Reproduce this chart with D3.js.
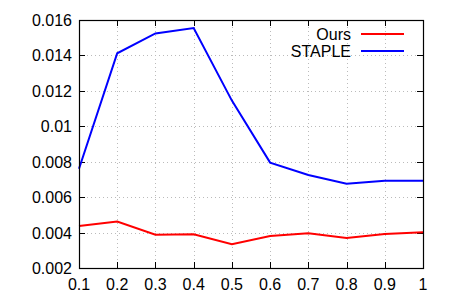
<!DOCTYPE html>
<html>
<head>
<meta charset="utf-8">
<script src="https://cdn.jsdelivr.net/npm/d3@7"></script>
<style>
  body { margin: 0; background: #fff; }
  text { font-family: "Liberation Sans", Arial, sans-serif; }
</style>
</head>
<body>
<svg id="chart"></svg>
<script>
var W = 450, H = 300;
var margin = {left: 79, right: 27, top: 20, bottom: 32};

// data
var xValues = [0.1, 0.2, 0.3, 0.4, 0.5, 0.6, 0.7, 0.8, 0.9, 1.0];
var oursValues = [0.00437, 0.00462, 0.00388, 0.0039, 0.00334, 0.0038, 0.00396, 0.0037, 0.00392, 0.00402];
var stapleValues = [0.0076, 0.01412, 0.01524, 0.01555, 0.01145, 0.00795, 0.00725, 0.00676, 0.00692, 0.00693];
var yTicks = [0.002, 0.004, 0.006, 0.008, 0.01, 0.012, 0.014, 0.016];
var xTicks = [0.1, 0.2, 0.3, 0.4, 0.5, 0.6, 0.7, 0.8, 0.9, 1];
var seriesNames = ["Ours", "STAPLE"];
var seriesColors = ["#ff0000", "#0000ff"];

var svg = d3.select("#chart").attr("width", W).attr("height", H);

var x = d3.scaleLinear().domain([0.1, 1]).range([margin.left, W - margin.right]);
var y = d3.scaleLinear().domain([0.002, 0.016]).range([H - margin.bottom, margin.top]);

var x0 = margin.left, x1 = W - margin.right;
var y0 = H - margin.bottom, y1 = margin.top;
var TICK = 6;
var FONT = 16;

// grid (dotted)
var grid = svg.append("g").attr("stroke", "#bbb").attr("stroke-width", 1).attr("stroke-dasharray", "1,3");
yTicks.slice(1, -1).forEach(function(t) {
    grid.append("line").attr("x1", x0).attr("x2", x1)
        .attr("y1", Math.round(y(t)) + 0.5).attr("y2", Math.round(y(t)) + 0.5);
});
xTicks.slice(1, -1).forEach(function(t) {
    grid.append("line").attr("y1", y0).attr("y2", y1)
        .attr("x1", Math.round(x(t)) + 0.5).attr("x2", Math.round(x(t)) + 0.5);
});

// tick marks, mirrored, pointing inward
var ticks = svg.append("g").attr("stroke", "#000").attr("stroke-width", 1);
yTicks.forEach(function(t) {
    var yy = Math.round(y(t)) + 0.5;
    ticks.append("line").attr("x1", x0).attr("x2", x0 + TICK).attr("y1", yy).attr("y2", yy);
    ticks.append("line").attr("x1", x1).attr("x2", x1 - TICK).attr("y1", yy).attr("y2", yy);
});
xTicks.forEach(function(t) {
    var xx = Math.round(x(t)) + 0.5;
    ticks.append("line").attr("y1", y0).attr("y2", y0 - TICK).attr("x1", xx).attr("x2", xx);
    ticks.append("line").attr("y1", y1).attr("y2", y1 + TICK).attr("x1", xx).attr("x2", xx);
});

// tick labels
svg.append("g").selectAll("text").data(yTicks).join("text")
    .attr("x", x0 - 7).attr("y", function(d) { return y(d) + 6; })
    .attr("text-anchor", "end").attr("font-size", FONT)
    .text(function(d) { return String(d); });
svg.append("g").selectAll("text").data(xTicks).join("text")
    .attr("x", function(d) { return x(d); }).attr("y", y0 + 22)
    .attr("text-anchor", "middle").attr("font-size", FONT)
    .text(function(d) { return String(d); });

// lines
var line = d3.line().x(function(d) { return x(d[0]); }).y(function(d) { return y(d[1]); });
[oursValues, stapleValues].forEach(function(vals, i) {
    svg.append("path")
        .datum(d3.zip(xValues, vals))
        .attr("d", line)
        .attr("fill", "none")
        .attr("stroke", seriesColors[i])
        .attr("stroke-width", 2);
});

// border
svg.append("rect").attr("x", x0 + 0.5).attr("y", y1 + 0.5)
    .attr("width", x1 - x0).attr("height", y0 - y1)
    .attr("fill", "none").attr("stroke", "#000").attr("stroke-width", 1.2);

// legend
var legend = svg.append("g");
seriesNames.forEach(function(name, i) {
    var ly = 34 + i * 17;
    legend.append("text").attr("x", 351).attr("y", ly + 5.5)
        .attr("text-anchor", "end").attr("font-size", FONT).text(name);
    legend.append("line").attr("x1", 361).attr("x2", 404).attr("y1", ly).attr("y2", ly)
        .attr("stroke", seriesColors[i]).attr("stroke-width", 2);
});
</script>
</body>
</html>
